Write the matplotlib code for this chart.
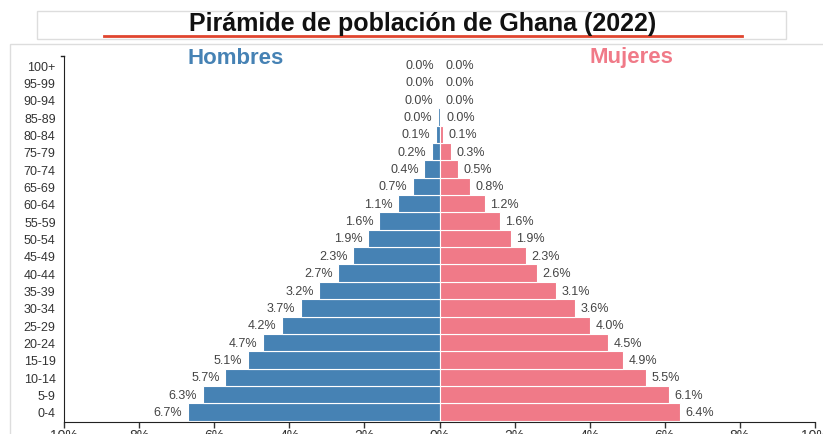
import matplotlib.pyplot as plt
from matplotlib.patches import Rectangle
from matplotlib.lines import Line2D
import numpy as np

plt.rcParams['font.family'] = ['Liberation Sans', 'DejaVu Sans']

# age groups from youngest to oldest
ages = ['0-4', '5-9', '10-14', '15-19', '20-24', '25-29', '30-34', '35-39',
        '40-44', '45-49', '50-54', '55-59', '60-64', '65-69', '70-74',
        '75-79', '80-84', '85-89', '90-94', '95-99', '100+']
hombres = [6.7, 6.3, 5.7, 5.1, 4.7, 4.2, 3.7, 3.2, 2.7, 2.3, 1.9, 1.6,
           1.1, 0.7, 0.4, 0.2, 0.1, 0.04, 0.01, 0.0, 0.0]
mujeres = [6.4, 6.1, 5.5, 4.9, 4.5, 4.0, 3.6, 3.1, 2.6, 2.3, 1.9, 1.6,
           1.2, 0.8, 0.5, 0.3, 0.1, 0.04, 0.01, 0.0, 0.0]
xticks = [-10, -8, -6, -4, -2, 0, 2, 4, 6, 8, 10]

W, H = 823, 435
fig = plt.figure(figsize=(W / 100, H / 100), dpi=100)


def fx(px):
    return px / W


def fy(py):
    return 1 - py / H


# outer frames
fig.patches.append(Rectangle((fx(10), fy(440)), fx(830) - fx(10), fy(45) - fy(440),
                             transform=fig.transFigure, fill=False,
                             edgecolor='#dddddd', linewidth=1))
fig.patches.append(Rectangle((fx(37), fy(40)), fx(786) - fx(37), fy(12) - fy(40),
                             transform=fig.transFigure, fill=False,
                             edgecolor='#dddddd', linewidth=1))
fig.text(fx(423), fy(24), 'Pirámide de población de Ghana (2022)',
         ha='center', va='center', fontsize=18, fontweight='bold', color='#111111')
fig.lines.append(Line2D([fx(104), fx(742)], [fy(37), fy(37)],
                        transform=fig.transFigure, color='#e0452f', linewidth=2))

ax = fig.add_axes([fx(64), fy(423), fx(815) - fx(64), fy(57) - fy(423)])
y = np.arange(len(ages))
blue = '#4682b4'
pink = '#f07a88'
ax.barh(y, [-v for v in hombres], height=1.0, color=blue,
        edgecolor='white', linewidth=0.8)
ax.barh(y, mujeres, height=1.0, color=pink, edgecolor='white', linewidth=0.8)

for i in range(len(ages)):
    ax.text(-hombres[i] - 0.15, y[i], '%.1f%%' % hombres[i], ha='right',
            va='center', fontsize=9, color='#444444')
    ax.text(mujeres[i] + 0.15, y[i], '%.1f%%' % mujeres[i], ha='left',
            va='center', fontsize=9, color='#444444')

ax.set_xlim(-10, 10)
ax.set_ylim(-0.58, 20.52)
ax.set_yticks(y)
ax.set_yticklabels(ages, fontsize=9, color='#333333')
ax.tick_params(axis='y', length=0, pad=6)
ax.set_xticks(xticks)
ax.set_xticklabels(['%d%%' % abs(t) for t in xticks], fontsize=10, color='#333333')
ax.tick_params(axis='x', length=4, width=1, color='#333333', pad=0)
for s in ['top', 'right']:
    ax.spines[s].set_visible(False)
ax.spines['left'].set_color('#222222')
ax.spines['bottom'].set_color('#222222')
# small outer tick at the top end of the age axis
ax.plot([-10, -10.08], [20.52, 20.52], color='#222222', linewidth=1,
        clip_on=False)

fig.text(fx(236), fy(58), 'Hombres', ha='center', va='center', fontsize=16,
         fontweight='bold', color=blue)
fig.text(fx(631), fy(58), 'Mujeres', ha='center', va='center', fontsize=16,
         fontweight='bold', color=pink)

fig.savefig('out.png', dpi=100)
